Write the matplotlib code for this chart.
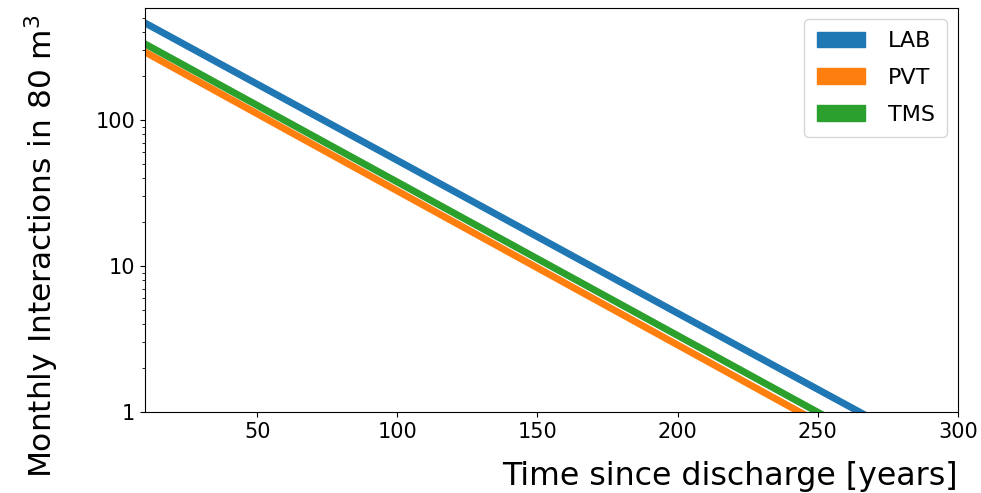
import matplotlib
matplotlib.use("Agg")
import matplotlib.pyplot as plt
from matplotlib.ticker import FuncFormatter
from matplotlib.patches import Patch

years = [10, 100, 200, 300]
lab = [462, 52.9, 4.75, 0.43]
pvt = [292, 32.7, 2.88, 0.253]
tms = [332, 37.6, 3.34, 0.297]

series = [("LAB", lab, "#1f77b4"), ("PVT", pvt, "#ff7f0e"), ("TMS", tms, "#2ca02c")]

fig = plt.figure(figsize=(9.81, 4.93), dpi=100)
ax = fig.add_axes([145/981, 81/493, 813/981, 404/493])
handles = []
for name, vals, c in series:
    ax.plot(years, vals, color=c, lw=5.0)
    handles.append(Patch(color=c, label=name))
ax.set_yscale("log")
ax.set_xlim(10, 300)
ax.set_ylim(1, 585)
ax.set_xticks([50, 100, 150, 200, 250, 300])
ax.yaxis.set_major_formatter(FuncFormatter(lambda v, p: f"{v:g}"))
ax.tick_params(labelsize=15)
ax.set_xlabel("Time since discharge [years]", fontsize=22.8)
ax.xaxis.set_label_coords(1.0, (412-476)/404)
ax.xaxis.label.set_ha("right")
ax.xaxis.label.set_va("center")
ax.set_ylabel("Monthly Interactions in 80 m$^3$", fontsize=22.5)
ax.yaxis.set_label_coords((42-145)/813, (412-246)/404)
ax.yaxis.label.set_va("center")
leg = ax.legend(handles=handles, loc="upper right", fontsize=16, handlelength=2.2,
                handletextpad=1.0, labelspacing=0.75, borderpad=0.55, borderaxespad=0.5)
fig.savefig("out.png", dpi=100)
